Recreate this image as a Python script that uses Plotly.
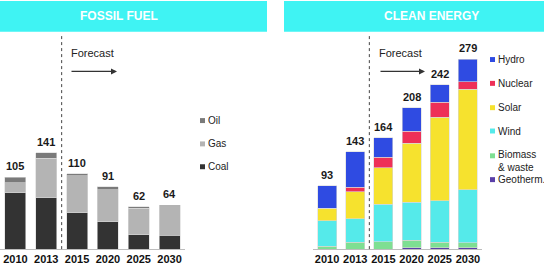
import plotly.graph_objects as go

years = ["2010", "2013", "2015", "2020", "2025", "2030"]

# Fossil fuel (stacked bottom -> top)
coal = [82, 75, 53, 40, 21, 20]
gas = [15, 58, 54, 47, 39, 42]
oil = [8, 8, 3, 4, 2, 2]
fossil_total = [105, 141, 110, 91, 62, 64]

# Clean energy (stacked bottom -> top)
geotherm = [0, 0, 0, 2, 2, 2]
biomass = [4, 10, 11, 11, 8, 7]
wind = [38, 35, 55, 56, 61, 78]
solar = [18, 39, 54, 87, 123, 148]
nuclear = [0, 7, 15, 17, 22, 11]
hydro = [33, 52, 29, 35, 26, 33]
clean_total = [93, 143, 164, 208, 242, 279]

W, H = 544, 265
FONT = "Liberation Sans, Arial, sans-serif"

fossil_series = [("Coal", coal, "#333333"), ("Gas", gas, "#b4b4b4"), ("Oil", oil, "#7a7a7a")]
clean_series = [("Geotherm.", geotherm, "#5a3fa8"), ("Biomass<br>& waste", biomass, "#7edf92"),
                ("Wind", wind, "#55eaea"), ("Solar", solar, "#f6e22e"),
                ("Nuclear", nuclear, "#ee3057"), ("Hydro", hydro, "#2f4be2")]

fig = go.Figure()
for name, vals, col in fossil_series:
    fig.add_trace(go.Bar(x=years, y=vals, name=name, marker_color=col,
                         marker_line=dict(color="#d8d8d8", width=0.6),
                         width=0.68, xaxis="x", yaxis="y", showlegend=False))
for name, vals, col in clean_series:
    fig.add_trace(go.Bar(x=years, y=vals, name=name, marker_color=col,
                         marker_line=dict(color="#d8d8d8", width=0.6),
                         width=0.67, xaxis="x2", yaxis="y2", showlegend=False))

ann = []
shapes = []
for i, t in enumerate(fossil_total):
    ann.append(dict(x=i, y=t, xref="x", yref="y", text=f"<b>{t}</b>", showarrow=False,
                    xanchor="center", yanchor="bottom", yshift=3,
                    font=dict(size=11, color="#1a1a1a", family=FONT)))
for i, t in enumerate(clean_total):
    ann.append(dict(x=i, y=t, xref="x2", yref="y2", text=f"<b>{t}</b>", showarrow=False,
                    xanchor="center", yanchor="bottom", yshift=3,
                    font=dict(size=11, color="#1a1a1a", family=FONT)))

def px(xp):
    return xp / W

def py(yp):
    return 1 - yp / H

# headers
shapes.append(dict(type="rect", xref="paper", yref="paper", x0=px(0), x1=px(267), y0=py(32), y1=py(1),
                   fillcolor="#3ff3f3", line_width=0, layer="below"))
shapes.append(dict(type="rect", xref="paper", yref="paper", x0=px(284), x1=px(544), y0=py(32), y1=py(1),
                   fillcolor="#3ff3f3", line_width=0, layer="below"))
ann.append(dict(x=px(119), y=py(16.5), xref="paper", yref="paper", text="<b>FOSSIL FUEL</b>",
                showarrow=False, xanchor="center", yanchor="middle",
                font=dict(size=12, color="white", family=FONT)))
ann.append(dict(x=px(431), y=py(16.5), xref="paper", yref="paper", text="<b>CLEAN ENERGY</b>",
                showarrow=False, xanchor="center", yanchor="middle",
                font=dict(size=12, color="white", family=FONT)))

# forecast dividers
for xr, xa in (("x", 1.5), ("x2", 1.5)):
    shapes.append(dict(type="line", xref=xr, yref="paper", x0=xa, x1=xa, y0=py(251), y1=py(36),
                       line=dict(color="#444", width=1, dash="dot")))

# forecast labels and arrows
for (tx, ax0, ax1) in ((69, 70, 117), (377, 379, 425)):
    ann.append(dict(x=px(tx), y=py(53), xref="paper", yref="paper", text="Forecast", showarrow=False,
                    xanchor="left", yanchor="middle", font=dict(size=11, color="#222", family=FONT)))
    ann.append(dict(x=px(ax1), y=py(72), ax=-(ax1 - ax0), ay=0, xref="paper", yref="paper",
                    axref="pixel", ayref="pixel", text="", showarrow=True, arrowhead=2,
                    arrowsize=1, arrowwidth=1.2, arrowcolor="#333"))

# custom legends
def legend_item(x_sq, y_c, col, label, ytext=None):
    shapes.append(dict(type="rect", xref="paper", yref="paper", x0=px(x_sq), x1=px(x_sq + 5),
                       y0=py(y_c + 2.5), y1=py(y_c - 2.5), fillcolor=col, line_width=0))
    ann.append(dict(x=px(x_sq + 5.5), y=py(ytext if ytext is not None else y_c), xref="paper", yref="paper",
                    text=label, showarrow=False, xanchor="left", yanchor="middle", align="left",
                    font=dict(size=10, color="#222", family=FONT)))

legend_item(200, 121.5, "#7a7a7a", "Oil")
legend_item(200, 145, "#b4b4b4", "Gas")
legend_item(200, 168, "#333333", "Coal")

legend_item(490, 60, "#2f4be2", "Hydro")
legend_item(490, 84, "#ee3057", "Nuclear")
legend_item(490, 108.5, "#f6e22e", "Solar")
legend_item(490, 132, "#55eaea", "Wind")
legend_item(490, 157, "#7edf92", "Biomass<br>& waste", ytext=162)
legend_item(490, 181, "#5a3fa8", "Geotherm.")

axis_common = dict(showgrid=False, zeroline=False, showline=True, linecolor="#bdbdbd", linewidth=1,
                   ticks="", tickfont=dict(size=11, color="#111", family=FONT), fixedrange=True)

fig.update_layout(
    width=W, height=H, margin=dict(l=0, r=0, t=0, b=0),
    paper_bgcolor="white", plot_bgcolor="white",
    barmode="stack", bargap=0.3,
    font=dict(family=FONT),
    xaxis=dict(domain=[px(0), px(185)], type="category", categoryorder="array", categoryarray=years,
               range=[-0.5, 5.5], anchor="y", **axis_common),
    yaxis=dict(domain=[py(251), py(40)], range=[0, 306], visible=False, anchor="x"),
    xaxis2=dict(domain=[px(313), px(482)], type="category", categoryorder="array", categoryarray=years,
                range=[-0.5, 5.5], anchor="y2", **axis_common),
    yaxis2=dict(domain=[py(251), py(40)], range=[0, 308], visible=False, anchor="x2"),
    annotations=ann, shapes=shapes, showlegend=False,
)
fig.update_xaxes(tickprefix="<b>", ticksuffix="</b>")

fig.write_html("out.html", config={"displayModeBar": False},
               post_script="document.body.style.margin='0px';document.body.style.overflow='hidden';")
